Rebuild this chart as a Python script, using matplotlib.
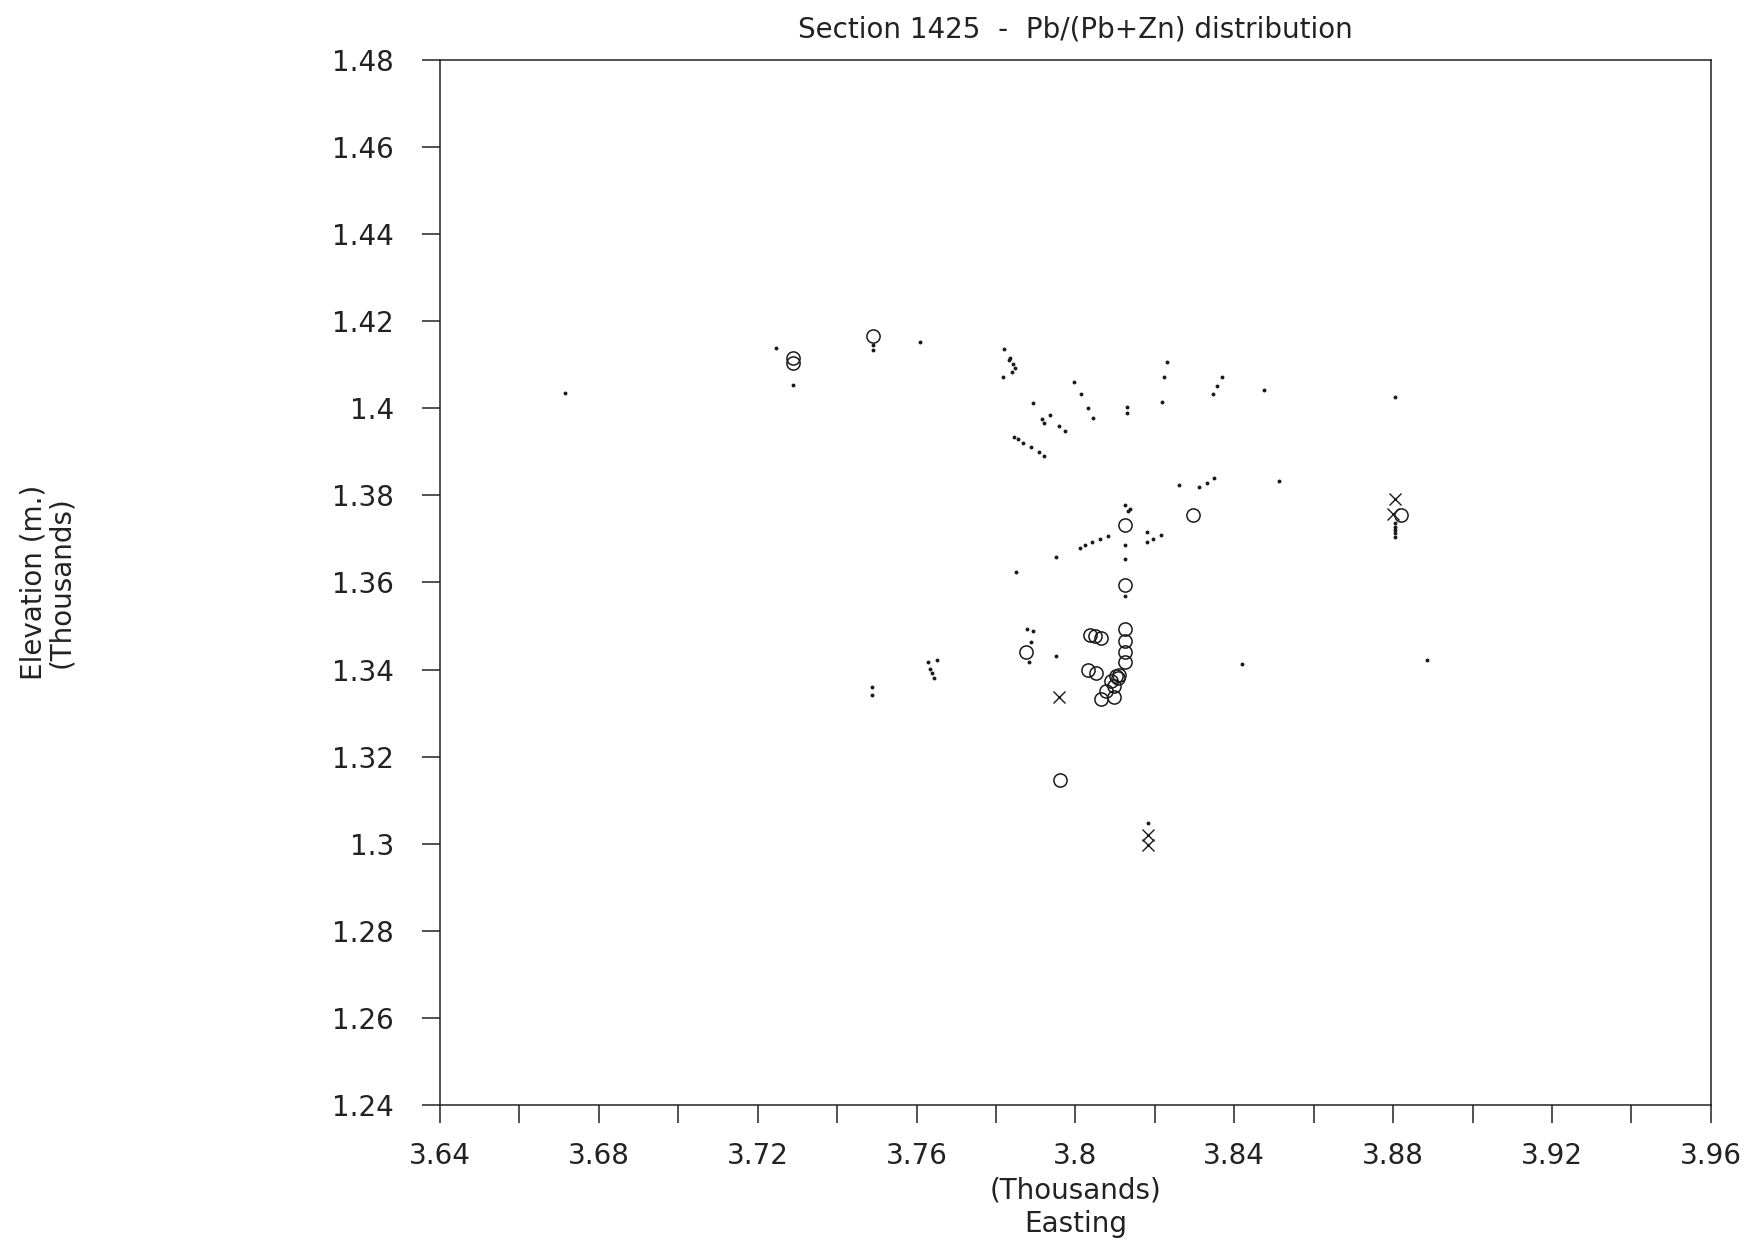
import matplotlib
matplotlib.use("Agg")
import matplotlib.pyplot as plt
import numpy as np

# ---- data (Easting, Elevation in thousands) ----
dots_x = [3.6716, 3.7246, 3.7288, 3.7491, 3.7491, 3.7609, 3.7820, 3.7832, 3.7836, 3.7843,
          3.7847, 3.7840, 3.7817, 3.7894, 3.7917, 3.7922, 3.7937, 3.7959, 3.7974, 3.7846,
          3.7855, 3.7869, 3.7888, 3.7908, 3.7921, 3.7996, 3.8013, 3.8032, 3.8045, 3.8131,
          3.8131, 3.8230, 3.8224, 3.8218, 3.8368, 3.8357, 3.8347, 3.8476, 3.8805, 3.8262,
          3.8312, 3.8331, 3.8350, 3.8513, 3.8124, 3.8132, 3.8138, 3.8012, 3.8025, 3.8041,
          3.8062, 3.8083, 3.8179, 3.8180, 3.8196, 3.8215, 3.8124, 3.8124, 3.7951, 3.7850,
          3.8125, 3.8804, 3.8804, 3.8804, 3.8804, 3.8804, 3.7878, 3.7893, 3.7887, 3.7883,
          3.7951, 3.8419, 3.8886, 3.7489, 3.7489, 3.7629, 3.7651, 3.7635, 3.7639, 3.7645,
          3.8183]
dots_y = [1.4036, 1.4139, 1.4053, 1.4145, 1.4135, 1.4152, 1.4137, 1.4112, 1.4115, 1.4102,
          1.4093, 1.4083, 1.4072, 1.4012, 1.3976, 1.3966, 1.3984, 1.3960, 1.3947, 1.3933,
          1.3929, 1.3921, 1.3910, 1.3899, 1.3890, 1.4061, 1.4033, 1.4000, 1.3977, 1.4002,
          1.3990, 1.4107, 1.4071, 1.4015, 1.4071, 1.4052, 1.4033, 1.4041, 1.4025, 1.3824,
          1.3819, 1.3829, 1.3839, 1.3832, 1.3779, 1.3764, 1.3768, 1.3680, 1.3685, 1.3692,
          1.3700, 1.3707, 1.3715, 1.3693, 1.3700, 1.3710, 1.3685, 1.3653, 1.3659, 1.3623,
          1.3570, 1.3737, 1.3728, 1.3720, 1.3713, 1.3704, 1.3492, 1.3489, 1.3464, 1.3417,
          1.3430, 1.3412, 1.3423, 1.3360, 1.3342, 1.3417, 1.3423, 1.3401, 1.3392, 1.3381,
          1.3047]

circ_x = [3.7288, 3.7288, 3.7491, 3.8125, 3.8297, 3.8820, 3.8125, 3.8126, 3.8126, 3.8126,
          3.8126, 3.8036, 3.8050, 3.8064, 3.7875, 3.8031, 3.8052, 3.8102, 3.8110, 3.8108,
          3.8089, 3.8098, 3.8077, 3.8065, 3.8098, 3.7960]
circ_y = [1.4116, 1.4104, 1.4166, 1.3732, 1.3756, 1.3756, 1.3594, 1.3492, 1.3466, 1.3441,
          1.3418, 1.3479, 1.3476, 1.3473, 1.3440, 1.3400, 1.3391, 1.3386, 1.3388, 1.3380,
          1.3374, 1.3363, 1.3351, 1.3333, 1.3338, 1.3147]

cross_x = [3.7958, 3.8183, 3.8183, 3.8804, 3.8799]
cross_y = [1.3338, 1.3021, 1.2998, 1.3792, 1.3757]

x_ticks = [3.64, 3.66, 3.68, 3.70, 3.72, 3.74, 3.76, 3.78, 3.80, 3.82, 3.84, 3.86, 3.88,
           3.90, 3.92, 3.94, 3.96]
x_labels = ["3.64", "", "3.68", "", "3.72", "", "3.76", "", "3.8", "", "3.84", "", "3.88",
            "", "3.92", "", "3.96"]
y_ticks = [1.24, 1.26, 1.28, 1.30, 1.32, 1.34, 1.36, 1.38, 1.40, 1.42, 1.44, 1.46, 1.48]
y_labels = ["1.24", "1.26", "1.28", "1.3", "1.32", "1.34", "1.36", "1.38", "1.4", "1.42",
            "1.44", "1.46", "1.48"]

title = "Section 1425  -  Pb/(Pb+Zn) distribution"
xlabel = "(Thousands)\nEasting"
ylabel = "Elevation (m.)\n(Thousands)"

plt.rcParams['font.family'] = ['DejaVu Sans']
fig = plt.figure(figsize=(17.43, 12.47), dpi=100)
ax = fig.add_axes([0.2524, 0.1139, 0.7292, 0.8380])

ax.plot(dots_x, dots_y, linestyle='none', marker='o', markersize=2.8,
        color='#1a1a1a', markeredgewidth=0)
ax.plot(circ_x, circ_y, linestyle='none', marker='o', markersize=9.5,
        markerfacecolor='none', markeredgecolor='#1a1a1a', markeredgewidth=1.1)
ax.plot(cross_x, cross_y, linestyle='none', marker='x', markersize=8,
        color='#1a1a1a', markeredgewidth=1.0)

ax.set_xlim(3.64, 3.96)
ax.set_ylim(1.24, 1.48)
ax.set_xticks(x_ticks)
ax.set_xticklabels(x_labels)
ax.set_yticks(y_ticks)
ax.set_yticklabels(y_labels)

for s in ax.spines.values():
    s.set_linewidth(1.1)
    s.set_color('#222222')

ax.tick_params(axis='both', direction='out', length=13, width=1.1, color='#222222',
               labelsize=20, labelcolor='#222222')
ax.tick_params(axis='x', pad=14)
ax.tick_params(axis='y', pad=20)

ax.set_title(title, fontsize=20, color='#222222', pad=16)
ax.set_xlabel(xlabel, fontsize=20, color='#222222', labelpad=4, linespacing=1.25)
ax.set_ylabel(ylabel, fontsize=20, color='#222222', labelpad=185, linespacing=1.0)

fig.savefig("out.png", dpi=100, facecolor='white')
